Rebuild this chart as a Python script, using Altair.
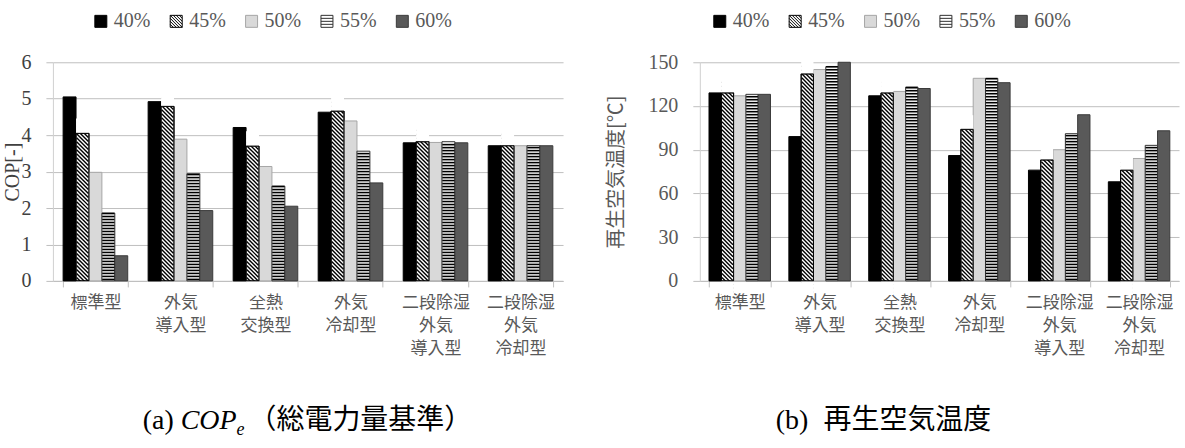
import altair as alt
import pandas as pd

# ---------------- data ----------------
categories = ["標準型", "外気\n導入型", "全熱\n交換型", "外気\n冷却型",
              "二段除湿\n外気\n導入型", "二段除湿\n外気\n冷却型"]
series = ["40%", "45%", "50%", "55%", "60%"]

cop_40 = [5.05, 4.92, 4.21, 4.63, 3.79, 3.71]
cop_45 = [4.05, 4.79, 3.70, 4.66, 3.82, 3.71]
cop_50 = [2.98, 3.89, 3.14, 4.39, 3.80, 3.71]
cop_55 = [1.86, 2.94, 2.60, 3.56, 3.82, 3.71]
cop_60 = [0.69, 1.93, 2.05, 2.69, 3.79, 3.71]

temp_40 = [129, 99, 127, 86, 76, 68]
temp_45 = [129, 142, 129, 104, 83, 76]
temp_50 = [127, 145, 130, 139, 90, 84]
temp_55 = [128, 147, 133, 139, 101, 93]
temp_60 = [128, 150, 132, 136, 114, 103]

cop_ticks = [0, 1, 2, 3, 4, 5, 6]
temp_ticks = [0, 30, 60, 90, 120, 150]

cop_title = "COP[-]"
temp_title = "再生空気温度[℃]"

# ---------------- styles ----------------
fill_colors = ["#000000", "#ffffff", "#d9d9d9", "#ffffff", "#595959"]
stroke_colors = ["#000000", "#000000", "#a6a6a6", "#303030", "#3a3a3a"]
SQUARE = "M-1,-1H1V1H-1Z"
DIAG_SYM = SQUARE + (" M-1,0.5L-0.5,1 M-1,0L0,1 M-1,-0.5L0.5,1 M-1,-1L1,1"
                     " M-0.5,-1L1,0.5 M0,-1L1,0 M0.5,-1L1,-0.5")
HORZ_SYM = SQUARE + " M-1,-0.5H1 M-1,0H1 M-1,0.5H1"
legend_shapes = [SQUARE, DIAG_SYM, SQUARE, HORZ_SYM, SQUARE]


def long_table(cols):
    rows = []
    for s, vals in zip(series, cols):
        for c, v in zip(categories, vals):
            rows.append({"cat": c, "series": s, "value": v})
    return pd.DataFrame(rows)


cop_df = long_table([cop_40, cop_45, cop_50, cop_55, cop_60])
temp_df = long_table([temp_40, temp_45, temp_50, temp_55, temp_60])
legend_df = pd.DataFrame({"series": series})

fill_scale = alt.Scale(domain=series, range=fill_colors)
stroke_scale = alt.Scale(domain=series, range=stroke_colors)
shape_scale = alt.Scale(domain=series, range=legend_shapes)


def panel(df, W, H, ymax, yticks, ytitle, ytitle_font, ytitle_color, ytitle_x,
          label_color, pin, pout, leg_range, captions):
    step_px = W / (len(categories) - pin + 2 * pout)
    bw = step_px * (1 - pin) / len(series)
    u = ymax / H
    h = bw / 2 * u

    def xenc(axis=None):
        return alt.X("cat:N", sort=categories,
                     scale=alt.Scale(paddingInner=pin, paddingOuter=pout),
                     axis=axis)

    xo = alt.XOffset("series:N", scale=alt.Scale(domain=series))
    yscale = alt.Scale(domain=[0, ymax], nice=False, zero=True)

    xaxis = alt.Axis(title=None, labelExpr="split(datum.label, '\\n')", labelAngle=0,
                     labelFont="Noto Sans CJK JP", labelFontSize=17, labelColor="#595959",
                     labelLineHeight=23, labelPadding=8, labelBaseline="top",
                     tickBand="extent", tickSize=6, tickColor="#bfbfbf",
                     domainColor="#bfbfbf", grid=False, labelLimit=300)
    yaxis = alt.Axis(values=yticks, title=ytitle, titleFont=ytitle_font, titleFontSize=20,
                     titleFontWeight="normal", titleColor=ytitle_color, titleX=ytitle_x,
                     titleBaseline="bottom", titleAngle=270,
                     labelFont="Liberation Serif", labelFontSize=20, labelColor=label_color,
                     labelPadding=15, tickSize=7, tickColor="#bfbfbf",
                     domainColor="#d0d0d0", gridColor="#bfbfbf", grid=True)

    def yenc(field):
        return alt.Y(field, scale=yscale, axis=yaxis)

    bars = alt.Chart(df).mark_bar(strokeWidth=1).encode(
        x=xenc(xaxis), xOffset=xo,
        y=yenc("value:Q"),
        fill=alt.Fill("series:N", scale=fill_scale, legend=None),
        stroke=alt.Stroke("series:N", scale=stroke_scale, legend=None),
    )

    seg = (bw - 1.2) ** 2
    d45 = alt.Chart(df).transform_filter(alt.datum.series == "45%")
    diag = d45.transform_calculate(
        s=f"sequence({-h}, datum.value + {h}, {4 * u})"
    ).transform_flatten(["s"]).mark_point(
        shape="M-1,-1L1,1", size=seg, filled=False, color="black",
        strokeWidth=1.4, opacity=1
    ).encode(x=xenc(), xOffset=xo, y=yenc("s:Q"))

    mask_top = d45.transform_calculate(
        a="datum.value", b=f"datum.value + {2.3 * h}"
    ).mark_bar(fill="white", strokeWidth=0).encode(
        x=xenc(), xOffset=xo, y=yenc("a:Q"), y2=alt.Y2("b:Q"))
    mask_bot = d45.transform_calculate(
        a=f"{-2.3 * h}", b="0"
    ).mark_bar(fill="white", strokeWidth=0).encode(
        x=xenc(), xOffset=xo, y=yenc("a:Q"), y2=alt.Y2("b:Q"))
    outline45 = d45.mark_bar(fillOpacity=0, stroke="black", strokeWidth=1).encode(
        x=xenc(), xOffset=xo, y=yenc("value:Q"))

    d55 = alt.Chart(df).transform_filter(alt.datum.series == "55%")
    horz = d55.transform_calculate(
        s=f"sequence({1.5 * u}, datum.value, {3 * u})"
    ).transform_flatten(["s"]).mark_point(
        shape="M-1,0L1,0", size=(bw - 0.6) ** 2, filled=False, color="black",
        strokeWidth=1.6, opacity=1
    ).encode(x=xenc(), xOffset=xo, y=yenc("s:Q"))

    leg_x = alt.X("series:N", sort=series,
                  scale=alt.Scale(type="point", domain=series, range=leg_range, padding=0),
                  axis=None)
    leg_sym = alt.Chart(legend_df).mark_point(size=144, filled=True, opacity=1,
                                              strokeWidth=1).encode(
        x=leg_x, y=alt.value(-41),
        fill=alt.Fill("series:N", scale=fill_scale, legend=None),
        stroke=alt.Stroke("series:N", scale=stroke_scale, legend=None),
        shape=alt.Shape("series:N", scale=shape_scale, legend=None),
    )
    leg_txt = alt.Chart(legend_df).mark_text(
        align="left", baseline="middle", dx=13, font="Liberation Serif",
        fontSize=20, color="#595959"
    ).encode(x=leg_x, y=alt.value(-41), text="series:N")

    caps = []
    for c in captions:
        caps.append(
            alt.Chart(pd.DataFrame({"t": [c["text"]]})).mark_text(
                align="left", baseline="alphabetic", font=c["font"],
                fontSize=c["size"], fontStyle=c["style"], color="#000000"
            ).encode(text="t:N", x=alt.value(c["x"]), y=alt.value(c["y"]))
        )

    return alt.layer(bars, diag, mask_top, mask_bot, outline45, horz,
                     leg_sym, leg_txt, *caps).resolve_scale(
        x="independent", xOffset="independent"
    ).properties(width=W, height=H)


CY = 367
cap_a = [
    {"text": "(a)", "x": 90, "y": CY, "font": "Liberation Serif", "size": 28, "style": "normal"},
    {"text": "COP", "x": 128, "y": CY, "font": "Liberation Serif", "size": 28, "style": "italic"},
    {"text": "e", "x": 184, "y": CY + 6, "font": "Liberation Serif", "size": 18, "style": "italic"},
    {"text": "（総電力量基準）", "x": 196, "y": CY, "font": "Noto Sans CJK JP", "size": 28, "style": "normal"},
]
cap_b = [
    {"text": "(b)", "x": 76, "y": CY, "font": "Liberation Serif", "size": 28, "style": "normal"},
    {"text": "再生空気温度", "x": 124, "y": CY, "font": "Noto Sans CJK JP", "size": 28, "style": "normal"},
]

left = panel(cop_df, 511, 219, 6, cop_ticks, cop_title, "Liberation Serif", "#404040", -30,
             "#404040", 0.24, 0.12, [48, 350], cap_a)
right = panel(temp_df, 480, 219, 150, temp_ticks, temp_title, "Noto Sans CJK JP", "#595959", -73,
              "#595959", 0.23, 0.115, [20, 322], cap_b)

chart = alt.hconcat(left, right, spacing=137, bounds="flush").resolve_scale(
    xOffset="independent"
).properties(
    autosize=alt.AutoSizeParams(type="pad"),
    padding={"left": 2, "top": 10, "right": 5, "bottom": 10},
).configure(background="white").configure_view(stroke="transparent")

chart.save("out.html", embed_options={"renderer": "svg", "actions": False})
